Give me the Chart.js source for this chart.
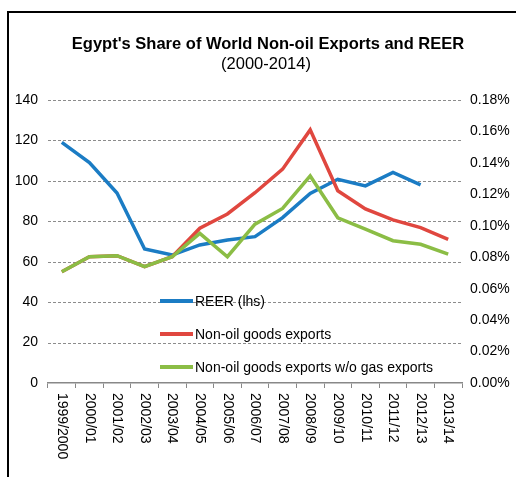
<!DOCTYPE html>
<html>
<head>
<meta charset="utf-8">
<script src="https://cdn.jsdelivr.net/npm/chart.js@4.4.1/dist/chart.umd.min.js"></script>
<style>
    body { margin: 0; background: #fff; }
    #frame { position: absolute; left: 7px; top: 11px; width: 520px; height: 480px;
             border-left: 2px solid #000; border-top: 2px solid #000; }
    #wrap { position: absolute; left: 0; top: 0; width: 516px; height: 477px; }
</style>
</head>
<body>
<div id="frame"></div>
<div id="wrap"><canvas id="trendChart"></canvas></div>
<script>
const years = ['1999/2000', '2000/01', '2001/02', '2002/03', '2003/04', '2004/05', '2005/06',
    '2006/07', '2007/08', '2008/09', '2009/10', '2010/11', '2011/12', '2012/13', '2013/14'];

// REER index, left axis
const reer = [119, 109, 94, 66.3, 63.3, 68.3, 70.7, 72.4, 81.8, 93.8, 100.8, 97.5, 104.2, 98, null];

// share of world non-oil exports, in percent, right axis
const nonOilExports = [0.0708, 0.0803, 0.081, 0.074, 0.0803, 0.0984, 0.1075, 0.121, 0.136, 0.161,
    0.1223, 0.1107, 0.1037, 0.0988, 0.0914];
const nonOilNoGas = [0.0708, 0.0803, 0.081, 0.074, 0.0803, 0.0952, 0.0803, 0.101, 0.111, 0.1317,
    0.1051, 0.0978, 0.0905, 0.0882, 0.082];

const titleText = "Egypt's Share of World Non-oil Exports and REER";
const subtitleText = '(2000-2014)';

const FONT = "'Liberation Sans', Arial, sans-serif";

// title block is a little right of the canvas centre in the original
const header = {
    id: 'header',
    afterDraw(chart) {
        const ctx = chart.ctx;
        ctx.save();
        ctx.fillStyle = '#000';
        ctx.textAlign = 'center';
        ctx.textBaseline = 'middle';
        ctx.font = 'bold 16.5px ' + FONT;
        ctx.fillText(titleText, 268, 44);
        ctx.font = '16.5px ' + FONT;
        ctx.fillText(subtitleText, 266, 64);
        ctx.restore();
    }
};

// dashed horizontal grid from the left axis ticks
const dashedGrid = {
    id: 'dashedGrid',
    beforeDatasetsDraw(chart) {
        const ctx = chart.ctx;
        const area = chart.chartArea;
        const ys = chart.scales.y;
        ctx.save();
        ctx.strokeStyle = '#8c8c8c';
        ctx.lineWidth = 1;
        ctx.setLineDash([3, 2]);
        ys.ticks.forEach((t) => {
            if (t.value === 0) return;
            const y = Math.round(ys.getPixelForValue(t.value)) + 0.5;
            ctx.beginPath();
            ctx.moveTo(area.left, y);
            ctx.lineTo(area.right, y);
            ctx.stroke();
        });
        ctx.restore();
    }
};

// x labels read top to bottom, so draw them by hand
const verticalLabels = {
    id: 'verticalLabels',
    afterDraw(chart) {
        const ctx = chart.ctx;
        const xs = chart.scales.x;
        ctx.save();
        ctx.font = '14px ' + FONT;
        ctx.fillStyle = '#000';
        ctx.textAlign = 'left';
        ctx.textBaseline = 'middle';
        years.forEach((lab, i) => {
            ctx.save();
            ctx.translate(xs.getPixelForTick(i), xs.top + 10);
            ctx.rotate(Math.PI / 2);
            ctx.fillText(lab, 0, 0);
            ctx.restore();
        });
        ctx.restore();
    }
};

// legend sits inside the plot, stacked
const innerLegend = {
    id: 'innerLegend',
    afterDraw(chart) {
        const ctx = chart.ctx;
        const area = chart.chartArea;
        const x = area.left + 112;
        ctx.save();
        ctx.font = '14px ' + FONT;
        ctx.textBaseline = 'middle';
        ctx.textAlign = 'left';
        chart.data.datasets.forEach((ds, i) => {
            const y = area.top + 201 + i * 33;
            ctx.strokeStyle = ds.borderColor;
            ctx.lineWidth = 4;
            ctx.beginPath();
            ctx.moveTo(x, y);
            ctx.lineTo(x + 33, y);
            ctx.stroke();
            ctx.fillStyle = '#000';
            ctx.fillText(ds.label, x + 35, y + 1);
        });
        ctx.restore();
    }
};

document.addEventListener('DOMContentLoaded', () => {
    const ctx = document.getElementById('trendChart').getContext('2d');

    new Chart(ctx, {
        type: 'line',
        data: {
            labels: years,
            datasets: [
                {
                    label: 'REER (lhs)',
                    data: reer,
                    yAxisID: 'y',
                    borderColor: '#1B7CC4',
                    borderWidth: 3.5,
                    pointRadius: 0,
                    order: 3
                },
                {
                    label: 'Non-oil goods exports',
                    data: nonOilExports,
                    yAxisID: 'y1',
                    borderColor: '#E0473F',
                    borderWidth: 3.5,
                    pointRadius: 0,
                    order: 2
                },
                {
                    label: 'Non-oil goods exports w/o gas exports',
                    data: nonOilNoGas,
                    yAxisID: 'y1',
                    borderColor: '#8BBD45',
                    borderWidth: 3.5,
                    pointRadius: 0,
                    order: 1
                }
            ]
        },
        options: {
            responsive: true,
            maintainAspectRatio: false,
            animation: false,
            layout: {padding: {top: 100}},
            plugins: {
                legend: {display: false},
                tooltip: {enabled: false},
                title: {display: false}
            },
            scales: {
                x: {
                    offset: true,
                    afterFit: (s) => { s.height = 94; },
                    ticks: {
                        color: 'rgba(0,0,0,0)',
                        font: {family: FONT, size: 14},
                        minRotation: 90,
                        maxRotation: 90,
                        autoSkip: false
                    },
                    grid: {
                        offset: true,
                        drawOnChartArea: false,
                        drawTicks: true,
                        tickLength: 5,
                        color: '#888'
                    },
                    border: {display: true, color: '#888', width: 1.5}
                },
                y: {
                    position: 'left',
                    min: 0,
                    max: 140,
                    afterFit: (s) => { s.width = 48; },
                    ticks: {
                        stepSize: 20,
                        padding: 10,
                        color: '#000',
                        font: {family: FONT, size: 14}
                    },
                    grid: {display: false, drawTicks: false},
                    border: {display: false}
                },
                y1: {
                    position: 'right',
                    min: 0,
                    max: 0.18,
                    afterFit: (s) => { s.width = 54; },
                    ticks: {
                        stepSize: 0.02,
                        padding: 8,
                        color: '#000',
                        font: {family: FONT, size: 14},
                        callback: (v) => v.toFixed(2) + '%'
                    },
                    grid: {display: false, drawTicks: false},
                    border: {display: false}
                }
            }
        },
        plugins: [header, dashedGrid, verticalLabels, innerLegend]
    });
});
</script>
</body>
</html>
